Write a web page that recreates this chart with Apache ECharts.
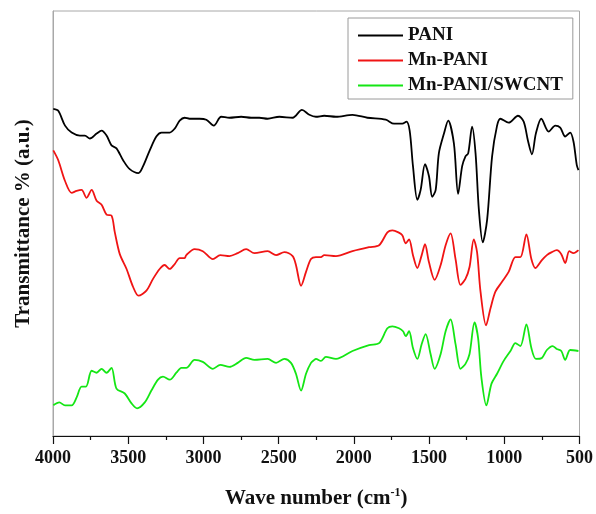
<!DOCTYPE html>
<html>
<head>
<meta charset="utf-8">
<script src="https://cdn.jsdelivr.net/npm/echarts@6/dist/echarts.min.js"></script>
<style>
  html, body { margin: 0; padding: 0; background: #fff; }
  #chart { width: 596px; height: 514px; }
</style>
</head>
<body>
<div id="chart"></div>
<script>
// FTIR spectra (transmittance, arbitrary units, curves offset vertically)
const seriesNames = ['PANI', 'Mn-PANI', 'Mn-PANI/SWCNT'];
const xTicks = [4000, 3500, 3000, 2500, 2000, 1500, 1000, 500];

const paniWn = [3998, 3965, 3920, 3876, 3821, 3788, 3755, 3710, 3677, 3644, 3611, 3578, 3534, 3490, 3432, 3401, 3357, 3313, 3279, 3224, 3191, 3158, 3125, 3092, 3026, 2981, 2931, 2882, 2827, 2749, 2683, 2628, 2573, 2495, 2407, 2345, 2296, 2252, 2197, 2119, 2009, 1910, 1788, 1733, 1678, 1651, 1629, 1607, 1578, 1556, 1527, 1501, 1479, 1456, 1435, 1401, 1373, 1335, 1307, 1280, 1258, 1240, 1214, 1191, 1169, 1143, 1114, 1081, 1048, 1026, 971, 909, 871, 843, 816, 790, 754, 705, 661, 628, 595, 562, 540, 518, 507];
const paniT = [331, 329, 314, 307, 304, 304, 301, 306, 309, 304, 294, 291, 279, 270, 266, 273, 289, 303, 307, 307, 311, 319, 322, 321, 321, 320, 314, 323, 322, 323, 322, 322, 321, 323, 322, 330, 325, 323, 324, 323, 325, 322, 320, 316, 316, 318, 309, 273, 239, 249, 275, 263, 242, 249, 286, 306, 319, 296, 245, 273, 283, 286, 313, 286, 229, 196, 219, 283, 314, 321, 317, 324, 318, 299, 285, 306, 321, 308, 314, 312, 303, 307, 298, 274, 269];

const mnPaniWn = [3998, 3965, 3920, 3876, 3843, 3810, 3777, 3743, 3710, 3677, 3644, 3611, 3589, 3556, 3511, 3468, 3432, 3379, 3335, 3291, 3258, 3224, 3191, 3158, 3125, 3114, 3059, 3004, 2937, 2888, 2827, 2772, 2716, 2661, 2573, 2517, 2462, 2407, 2385, 2351, 2318, 2285, 2252, 2219, 2197, 2119, 2009, 1899, 1832, 1777, 1744, 1704, 1678, 1655, 1633, 1607, 1578, 1549, 1527, 1501, 1463, 1423, 1390, 1357, 1324, 1291, 1258, 1231, 1203, 1181, 1158, 1121, 1092, 1059, 1015, 971, 926, 893, 853, 820, 794, 750, 717, 684, 651, 621, 595, 568, 540, 507];
const mnPaniT = [289, 279, 258, 246, 248, 249, 241, 249, 238, 234, 224, 223, 206, 184, 169, 151, 142, 147, 159, 169, 173, 169, 174, 180, 180, 183, 189, 187, 179, 183, 182, 185, 189, 185, 187, 183, 186, 182, 173, 152, 166, 179, 181, 181, 183, 182, 187, 191, 193, 206, 208, 206, 203, 195, 199, 183, 170, 183, 194, 176, 158, 173, 193, 205, 179, 153, 159, 171, 199, 186, 146, 112, 129, 146, 156, 166, 181, 181, 204, 179, 170, 178, 183, 186, 188, 184, 175, 187, 185, 188];

const swcntWn = [3998, 3958, 3920, 3876, 3843, 3810, 3781, 3743, 3710, 3677, 3644, 3611, 3578, 3523, 3478, 3441, 3390, 3346, 3302, 3269, 3224, 3180, 3147, 3114, 3059, 3004, 2937, 2888, 2827, 2772, 2716, 2661, 2573, 2517, 2462, 2418, 2385, 2351, 2318, 2285, 2263, 2252, 2219, 2186, 2119, 2009, 1899, 1832, 1777, 1744, 1700, 1673, 1655, 1633, 1607, 1578, 1549, 1523, 1490, 1463, 1423, 1390, 1357, 1324, 1291, 1258, 1231, 1198, 1174, 1152, 1119, 1085, 1048, 1004, 959, 926, 893, 853, 820, 790, 750, 717, 679, 651, 621, 595, 562, 507];
const swcntT = [31, 34, 31, 31, 39, 50, 50, 66, 64, 68, 64, 69, 48, 43, 33, 28, 34, 46, 57, 60, 57, 64, 69, 69, 77, 75, 68, 72, 70, 74, 79, 77, 78, 74, 78, 74, 63, 46, 63, 74, 77, 78, 76, 80, 78, 86, 92, 94, 109, 111, 109, 106, 101, 106, 89, 78, 93, 103, 83, 68, 83, 106, 118, 93, 68, 73, 83, 115, 99, 59, 31, 53, 63, 76, 86, 94, 91, 113, 89, 78, 79, 87, 91, 88, 86, 77, 87, 86];

const lineColors = ['#000000', '#f01414', '#14e614'];

function pairs(xs, ys) {
  return xs.map((x, i) => [x, ys[i]]);
}

const serif = '"Liberation Serif", "Times New Roman", serif';
const chart = echarts.init(document.getElementById('chart'), null, { renderer: 'canvas' });

const spectra = [pairs(paniWn, paniT), pairs(mnPaniWn, mnPaniT), pairs(swcntWn, swcntT)];

chart.setOption({
  animation: false,
  backgroundColor: '#ffffff',
  grid: {
    left: 53, right: 15, top: 11, bottom: 73,
    show: true, borderColor: '#a8a8a8', borderWidth: 1
  },
  legend: {
    orient: 'vertical',
    left: 348, top: 18,
    width: 226,
    padding: [8, 10, 4, 10],
    itemGap: 6,
    icon: 'rect',
    itemWidth: 45, itemHeight: 2,
    borderColor: '#9a9a9a', borderWidth: 1,
    data: seriesNames,
    textStyle: { fontFamily: serif, fontWeight: 'bold', fontSize: 19, lineHeight: 19, color: '#111' }
  },
  xAxis: {
    type: 'value',
    inverse: true,
    min: 500, max: 4000, interval: 500,
    name: '{a|Wave number (cm}{s|-1}{a|)}',
    nameLocation: 'middle',
    nameGap: 51,
    nameTextStyle: {
      rich: {
        a: { fontFamily: serif, fontWeight: 'bold', fontSize: 21, color: '#111', lineHeight: 22, verticalAlign: 'bottom' },
        s: { fontFamily: serif, fontWeight: 'bold', fontSize: 12, color: '#111', lineHeight: 22, verticalAlign: 'top', padding: [0, 0, 8, 0] }
      }
    },
    axisLine: { show: true, onZero: false, lineStyle: { color: '#111', width: 1.2 } },
    axisTick: { show: true, inside: false, length: 8, lineStyle: { color: '#111', width: 1.2 } },
    minorTick: { show: true, splitNumber: 2, length: 4, lineStyle: { color: '#111', width: 1.2 } },
    splitLine: { show: false },
    axisLabel: {
      margin: 13,
      fontFamily: serif, fontWeight: 'bold', fontSize: 18, color: '#111',
      formatter: v => (xTicks.indexOf(v) >= 0 ? String(v) : '')
    }
  },
  yAxis: {
    type: 'value',
    min: 0, max: 430,
    name: 'Transmittance % (a.u.)',
    nameLocation: 'middle',
    nameGap: 19,
    nameRotate: 90,
    nameTextStyle: { fontFamily: serif, fontWeight: 'bold', fontSize: 21, color: '#111' },
    axisLine: { show: true, lineStyle: { color: '#a8a8a8', width: 1 } },
    axisTick: { show: false },
    axisLabel: { show: false },
    splitLine: { show: false }
  },
  series: spectra.map((d, i) => ({
    name: seriesNames[i],
    type: 'line',
    data: d,
    symbol: 'none',
    smooth: 0.3,
    lineStyle: { color: lineColors[i], width: 1.8 },
    itemStyle: { color: lineColors[i] }
  }))
});
</script>
</body>
</html>
